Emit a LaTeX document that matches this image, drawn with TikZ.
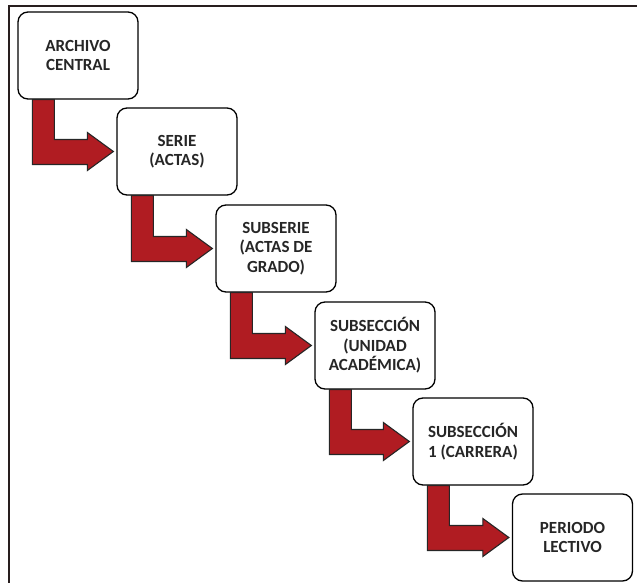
\documentclass[tikz,border=0pt]{standalone}
\usepackage{fontspec}
\setmainfont{Carlito}
\usetikzlibrary{calc}
\definecolor{arrred}{RGB}{176,28,34}
\definecolor{framecol}{RGB}{40,30,30}
\tikzset{
  stepbox/.style={draw=black, line width=1.3pt, rounded corners=10pt, fill=white,
    minimum width=120pt, minimum height=87pt, inner sep=2pt, align=center,
    font=\fontsize{17}{19.5}\selectfont\bfseries, text=black!85},
  bentarr/.style={fill=arrred, draw=black!85, line width=1.1pt, line join=miter},
  framepath/.style={draw=framecol, line width=1.6pt}
}
\newcommand\bentarrow[2]{%
  \path[bentarr] let \p1=(#1.south west), \p2=(#2.west) in
    (\x1+15pt,\y1) -- (\x1+37pt,\y1) -- (\x1+37pt,\y2+12pt) -- (\x2-29pt,\y2+12pt)
    -- (\x2-29pt,\y2+19pt) -- (\x2-3pt,\y2) -- (\x2-29pt,\y2-19pt) -- (\x2-29pt,\y2-13pt)
    -- (\x1+15pt,\y2-13pt) -- cycle;}
\begin{document}
\begin{tikzpicture}[x=1pt,y=-1pt]
\useasboundingbox (0,0) rectangle (637,583);
\draw[framepath] (637,6) -- (9,6) -- (9,583);
\node[stepbox] (a) at (78,55.5) {ARCHIVO\\CENTRAL};
\node[stepbox] (b) at (177,151.5) {SERIE\\(ACTAS)};
\node[stepbox] (c) at (276,248.5) {SUBSERIE\\(ACTAS DE\\GRADO)};
\node[stepbox] (d) at (375,345.5) {SUBSECCIÓN\\(UNIDAD\\ACADÉMICA)};
\node[stepbox] (e) at (473,441.5) {SUBSECCIÓN\\1 (CARRERA)};
\node[stepbox] (f) at (572.5,537.5) {PERIODO\\LECTIVO};
\bentarrow{a}{b}
\bentarrow{b}{c}
\bentarrow{c}{d}
\bentarrow{d}{e}
\bentarrow{e}{f}
\end{tikzpicture}
\end{document}
